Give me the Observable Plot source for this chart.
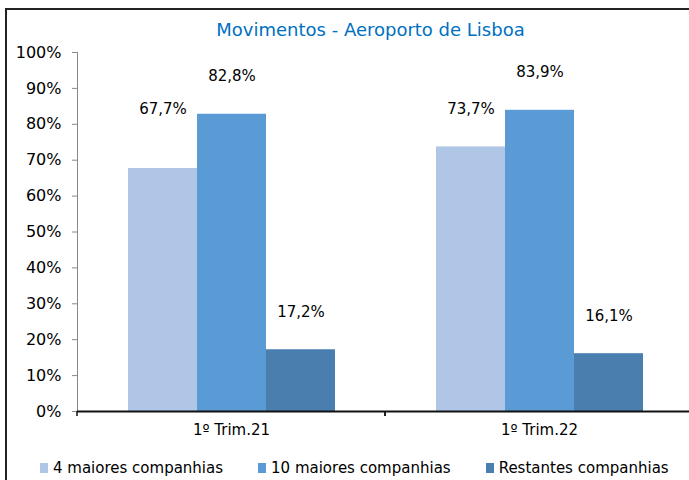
<!DOCTYPE html>
<html>
<head>
<meta charset="utf-8">
<script src="https://cdn.jsdelivr.net/npm/d3@7"></script>
<script src="https://cdn.jsdelivr.net/npm/@observablehq/plot@0.6"></script>
<style>
  body { margin:0; width:689px; height:480px; overflow:hidden; position:relative; background:#fff; font-family:"DejaVu Sans", sans-serif; }
  #border { position:absolute; left:5px; top:8px; width:800px; height:600px; border:2px solid #222; box-sizing:border-box; }
  #chart { position:absolute; left:0; top:0; }
  #title { position:absolute; left:0; top:20px; width:741px; text-align:center; font-size:18px; line-height:20px; color:#0070C0; }
  #legend { position:absolute; left:40px; top:458px; display:flex; font-size:15px; line-height:20px; color:#000; white-space:nowrap; }
  .item { display:flex; align-items:center; margin-right:35px; }
  .sw { width:8px; height:10px; margin-right:5px; }
</style>
</head>
<body>
<div id="border"></div>
<div id="chart"></div>
<div id="title">Movimentos - Aeroporto de Lisboa</div>
<div id="legend"></div>
<script>
const categories = ["1º Trim.21", "1º Trim.22"];
const series = ["4 maiores companhias", "10 maiores companhias", "Restantes companhias"];
const values4 = [67.7, 73.7];
const values10 = [82.8, 83.9];
const valuesRest = [17.2, 16.1];
const yTicks = [0, 10, 20, 30, 40, 50, 60, 70, 80, 90, 100];
const colors = ["#AFC6E6", "#5B9BD5", "#4A7EAF"];

const seriesValues = [values4, values10, valuesRest];
const data = categories.flatMap((c, i) => series.map((s, j) => ({category: c, series: s, value: seriesValues[j][i]})));
const fmt = v => v.toFixed(1).replace(".", ",") + "%";

const plot = Plot.plot({
  width: 700,
  height: 450,
  marginLeft: 77,
  marginRight: 7,
  marginTop: 52,
  marginBottom: 39,
  style: {fontFamily: "DejaVu Sans", fontSize: "15px", color: "#000", background: "transparent", maxWidth: "none", overflow: "visible"},
  fx: {domain: categories, padding: 0, label: null, axis: null},
  x: {domain: series, paddingInner: 0, paddingOuter: 0.73, axis: null},
  y: {domain: [0, 100], label: null},
  color: {domain: series, range: colors},
  marks: [
    Plot.barY(data, {fx: "category", x: "series", y: "value", fill: "series"}),
    Plot.text(data.filter((d, i) => i !== 0), {fx: "category", x: "series", y: "value", text: d => fmt(d.value), dy: -38, fontSize: 15, fill: "#000"}),
    Plot.text(data.filter((d, i) => i === 0), {fx: "category", x: "series", y: "value", text: d => fmt(d.value), dy: -59, fontSize: 15, fill: "#000"}),
    Plot.frame({anchor: "left", facetAnchor: "left", stroke: "#888", strokeWidth: 1}),
    Plot.axisY({ticks: yTicks, tickFormat: d => d + "%", tickSize: 5, tickPadding: 11, stroke: "#888", fill: "#000", fontSize: 16, label: null}),
    Plot.axisFx({anchor: "bottom", tickSize: 0, tickPadding: 13, fontSize: 15, label: null}),
    Plot.ruleY([0], {stroke: "#111", strokeWidth: 2})
  ]
});
document.getElementById("chart").appendChild(plot);

// small separator ticks between categories on the baseline
const fxs = plot.scale("fx");
const ys = plot.scale("y");
const svg = d3.select(plot);
const y0 = ys.apply(0);
categories.forEach(c => {
  const xb = fxs.apply(c) + fxs.bandwidth;
  [fxs.apply(c), xb].forEach(xv => {
    svg.append("line").attr("x1", xv).attr("x2", xv).attr("y1", y0).attr("y2", y0 + 5).attr("stroke", "#111").attr("stroke-width", 1.5);
  });
});

const color = plot.scale("color");
const legend = d3.select("#legend");
series.forEach(s => {
  const it = legend.append("div").attr("class", "item");
  it.append("div").attr("class", "sw").style("background", color.apply(s));
  it.append("span").text(s);
});
</script>
</body>
</html>
